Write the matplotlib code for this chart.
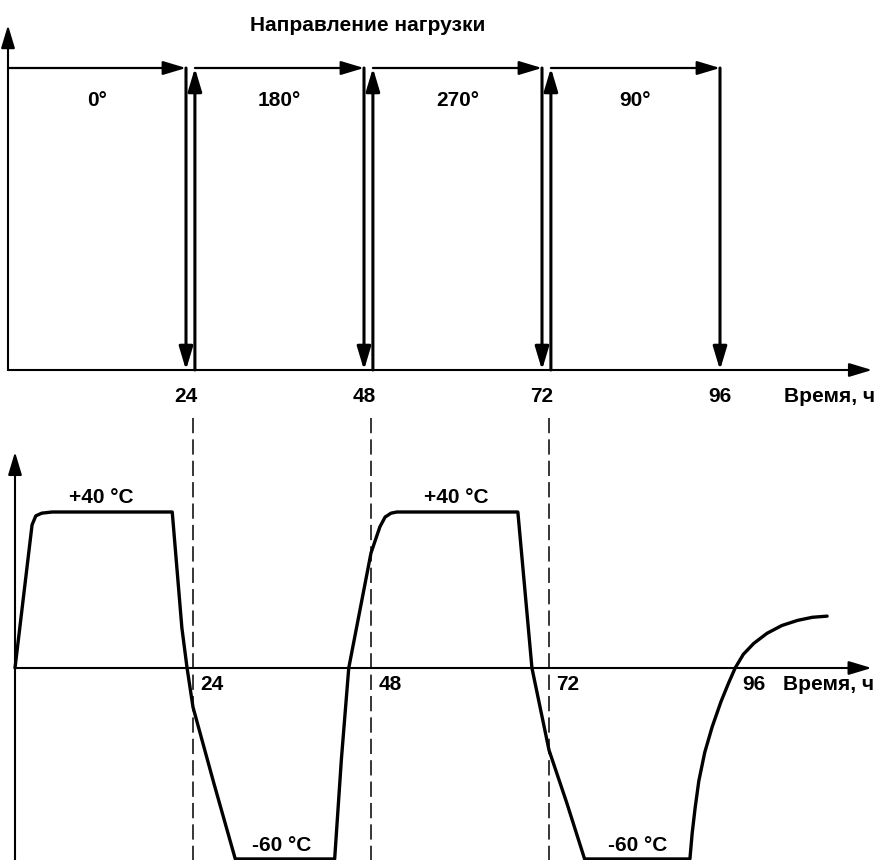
import numpy as np
import matplotlib.pyplot as plt

plt.rcParams['font.family'] = ['Liberation Sans', 'DejaVu Sans']
plt.rcParams['font.weight'] = 'bold'

# top panel: load direction per interval (hours)
load_start = [0, 25.2, 49.2, 73.2]
load_end = [24, 48, 72, 96]
load_labels = ['0°', '180°', '270°', '90°']
tick_hours = [24, 48, 72, 96]

# bottom panel: chamber temperature, hours vs degC (schematic)
temp_t = [0, 2.3, 2.8, 3.6, 5.0, 21.2, 22.5, 23.2, 24.0, 26.8, 29.7,
          43.1, 44.0, 45.0, 48.0, 49.2, 49.9, 50.7, 51.5, 67.8, 69.7,
          72.0, 74.4, 76.8, 91.0, 91.3, 91.7, 92.2, 93.0, 94.0, 95.2,
          96.2, 97.1, 98.2, 99.6, 101.4, 103.4, 105.5, 107.5, 109.5]
temp_v = [0, 36.7, 39.0, 39.7, 40, 40, 10.3, 0, -12.3, -36.1, -60,
          -60, -28.9, 0, 29.5, 36.2, 38.7, 39.7, 40, 40, 0,
          -25.8, -42.4, -60, -60, -52.0, -44.0, -35.5, -26.5, -18.5, -10.5,
          -4.8, 0, 3.5, 6.3, 8.9, 10.9, 12.2, 13.0, 13.3]
hot_label_t = [11.7, 59.5]
cold_label_t = [36.0, 84.0]

px_h = 178 / 24  # pixels per hour


def fwd(v):
    v = np.asarray(v, float)
    return np.where(v >= 0, v * 3.9, v * 3.183)


def inv(u):
    u = np.asarray(u, float)
    return np.where(u >= 0, u / 3.9, u / 3.183)


def arrow(ax, a, b, lw=1.5):
    ax.annotate('', xy=b, xytext=a,
                arrowprops=dict(arrowstyle='-|>,head_length=1.4,head_width=0.42',
                                lw=lw, color='black', shrinkA=0, shrinkB=0),
                annotation_clip=False)


fig = plt.figure(figsize=(8.77, 8.6), dpi=100)
top = fig.add_axes([0, 0.5, 1, 0.5])
bot = fig.add_axes([0, 0, 1, 0.5])
for ax in (top, bot):
    ax.axis('off')

top.set_xlim(-8 / px_h, 869 / px_h)
top.set_ylim(-60 / 302, 370 / 302)

bot.set_yscale('function', functions=(fwd, inv))
bot.set_xlim(-15 / px_h, 862 / px_h)
bot.set_ylim(inv(-192), inv(238))

fs = 15

# ---- top panel
arrow(top, (0, 0), (0, 1.142), lw=1.5)
arrow(top, (0, 0), (116.5, 0), lw=1.5)
for s, e, lab in zip(load_start, load_end, load_labels):
    arrow(top, (s, 1), (e, 1), lw=1.6)
    arrow(top, (e, 1), (e, 0), lw=2.2)
    if s > 0:
        arrow(top, (s, 0), (s, 1), lw=2.2)
    top.text((s + e) / 2, 0.894, lab, ha='center', va='center', fontsize=fs)
for h in tick_hours:
    top.text(h, -0.089, str(h), ha='center', va='center', fontsize=fs)
top.text(104.6, -0.089, 'Время, ч', ha='left', va='center', fontsize=fs)
top.text(32.6, 1.142, 'Направление нагрузки', ha='left', va='center', fontsize=fs)

# ---- bottom panel
bot.plot(temp_t, temp_v, color='black', lw=2.4, solid_joinstyle='round',
         solid_capstyle='round', clip_on=False)
arrow(bot, (0, -62), (0, 55.4), lw=1.5)
arrow(bot, (0, 0), (115.5, 0), lw=1.5)
for h in tick_hours[:3]:
    bot.plot([h, h], [-62, 65.6], color='black', lw=1.1,
             linestyle=(0, (10, 4)), clip_on=False)
for h in tick_hours[:3]:
    bot.text(h + 1.0, -5.3, str(h), ha='left', va='center', fontsize=fs)
bot.text(98.0, -5.3, '96', ha='left', va='center', fontsize=fs)
bot.text(103.6, -5.3, 'Время, ч', ha='left', va='center', fontsize=fs)
for t in hot_label_t:
    bot.text(t, 43.6, '+40 °C', ha='center', va='center', fontsize=fs)
for t in cold_label_t:
    bot.text(t, -55.9, '-60 °C', ha='center', va='center', fontsize=fs)

fig.savefig('out.png', dpi=100)
